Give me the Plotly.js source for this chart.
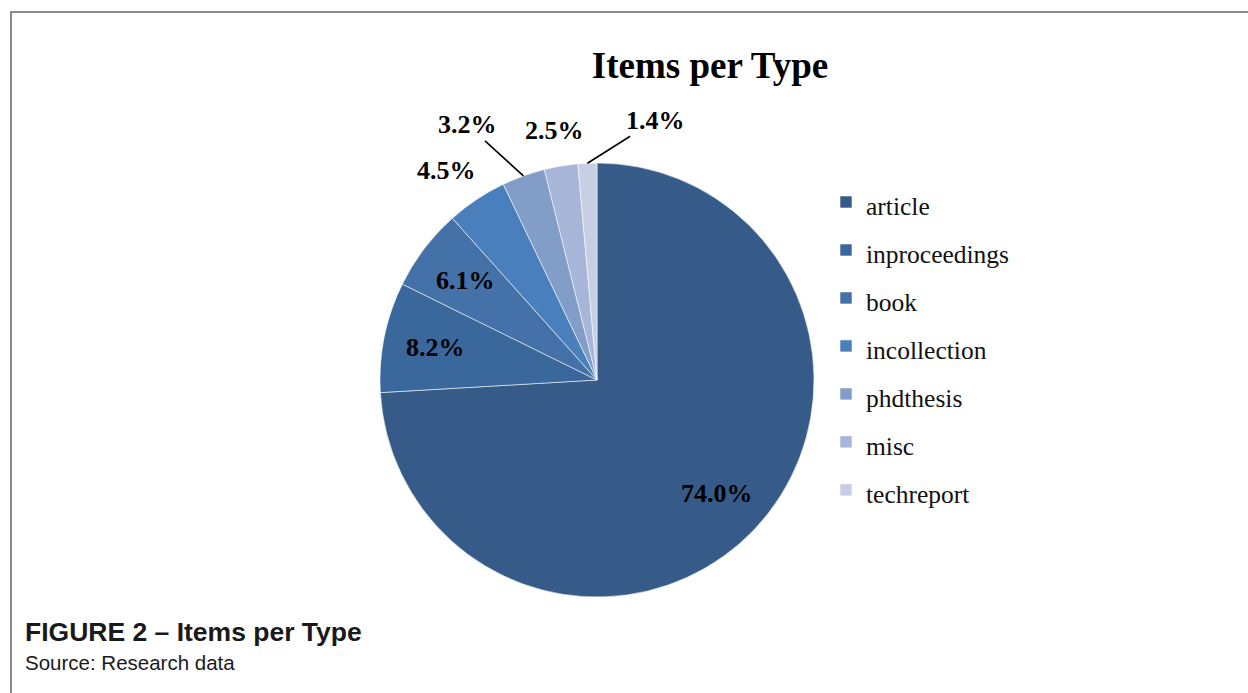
<!DOCTYPE html>
<html>
<head>
<meta charset="utf-8">
<script src="https://cdn.plot.ly/plotly-3.0.1.min.js"></script>
<style>
  html, body { margin: 0; padding: 0; background: #fff; }
  #wrap { position: relative; width: 1248px; height: 693px; overflow: hidden; }
  #frame { position: absolute; left: 10px; top: 11px; width: 1300px; height: 800px;
           border-top: 2px solid #8a8a8a; border-left: 2px solid #8a8a8a; box-sizing: border-box; pointer-events: none; }
  #chart { position: absolute; left: 0; top: 0; width: 1248px; height: 693px; }
</style>
</head>
<body>
<div id="wrap">
  <div id="chart"></div>
  <div id="frame"></div>
</div>
<script>
// Data
const categories = ["article", "inproceedings", "book", "incollection", "phdthesis", "misc", "techreport"];
const shares = [74.0, 8.2, 6.1, 4.5, 3.2, 2.5, 1.4];
const sliceColors = ["#365B88", "#3A679C", "#4471A8", "#4A7FBE", "#839DC9", "#A7B6D8", "#C6CFE4"];
const chartTitle = "Items per Type";
const captionTitle = "FIGURE 2 – Items per Type";
const captionSource = "Source: Research data";

// Label placement style: inside labels along the slice's mid-angle; outside ones offset (px) from the rim
const labelStyle = [
  { inside: true },
  { inside: true },
  { inside: true },
  { inside: false, dx: -30, dy: -29, arrow: false },
  { inside: false, dx: -56, dy: -51, arrow: true },
  { inside: false, dx: -6,  dy: -36, arrow: false },
  { inside: false, dx: 68,  dy: -43, arrow: true }
];

const W = 1248, H = 693;
const domX = [380 / W, 814 / W], domY = [96 / H, 530 / H];
const serif = "Liberation Serif, Times New Roman, serif";

// pie geometry in pixels derived from the domain
const cx = (domX[0] + domX[1]) / 2 * W;
const cy = (1 - (domY[0] + domY[1]) / 2) * H;
const rad = Math.min((domX[1] - domX[0]) * W, (domY[1] - domY[0]) * H) / 2;
const total = shares.reduce((a, b) => a + b, 0);

const labelAnnotations = [];
let cum = 0;
shares.forEach((v, i) => {
  const mid = (cum + v / 2) / total;
  cum += v;
  const th = 2 * Math.PI * mid;           // clockwise from 12 o'clock
  const st = labelStyle[i];
  const rr = st.inside ? 0.76 * rad : rad;
  const px = cx + rr * Math.sin(th);
  const py = cy - rr * Math.cos(th);
  const ann = {
    text: v.toFixed(1) + "%",
    xref: "paper", yref: "paper",
    x: px / W, y: 1 - py / H,
    xanchor: "center", yanchor: "middle",
    font: { family: serif, size: 26, color: "#000", weight: "bold" }
  };
  if (st.inside) {
    ann.showarrow = false;
  } else if (st.arrow) {
    ann.showarrow = true;
    ann.ax = st.dx; ann.ay = st.dy;
    ann.arrowhead = 0; ann.arrowwidth = 1.6; ann.arrowcolor = "#000"; ann.standoff = 0;
  } else {
    ann.showarrow = false;
    ann.xshift = st.dx; ann.yshift = -st.dy;
  }
  labelAnnotations.push(ann);
});

const trace = {
  type: "pie",
  labels: categories.map(c => '<span style="font-size:25.5px">' + c + '</span>'),
  values: shares,
  sort: false,
  direction: "clockwise",
  rotation: 0,
  marker: { colors: sliceColors, line: { color: "rgba(255,255,255,0.7)", width: 0.8 } },
  textinfo: "none",
  domain: { x: domX, y: domY },
  hoverinfo: "label+percent"
};

const layout = {
  width: W,
  height: H,
  margin: { l: 0, r: 0, t: 0, b: 0 },
  paper_bgcolor: "#fff",
  plot_bgcolor: "#fff",
  title: {
    text: chartTitle,
    x: 710 / W, xanchor: "center", xref: "paper",
    y: 1 - 65 / H, yanchor: "middle", yref: "container",
    font: { family: serif, size: 37, color: "#000", weight: "bold" }
  },
  showlegend: true,
  legend: {
    x: 826 / W, xanchor: "left",
    y: 1 - 173 / H, yanchor: "top",
    font: { family: serif, size: 34.6, color: "#111" },
    bgcolor: "rgba(0,0,0,0)",
    borderwidth: 0
  },
  annotations: labelAnnotations.concat([
    {
      text: "<b>" + captionTitle + "</b>",
      xref: "paper", yref: "paper",
      x: 23 / W, y: 1 - 632 / H, xanchor: "left", yanchor: "middle",
      showarrow: false,
      font: { family: "Liberation Sans, Arial, sans-serif", size: 26.5, color: "#1a1a1a" }
    },
    {
      text: captionSource,
      xref: "paper", yref: "paper",
      x: 23 / W, y: 1 - 662 / H, xanchor: "left", yanchor: "middle",
      showarrow: false,
      font: { family: "Liberation Sans, Arial, sans-serif", size: 20.5, color: "#1a1a1a" }
    }
  ])
};

Plotly.newPlot("chart", [trace], layout, { displayModeBar: false, staticPlot: true });
</script>
</body>
</html>
